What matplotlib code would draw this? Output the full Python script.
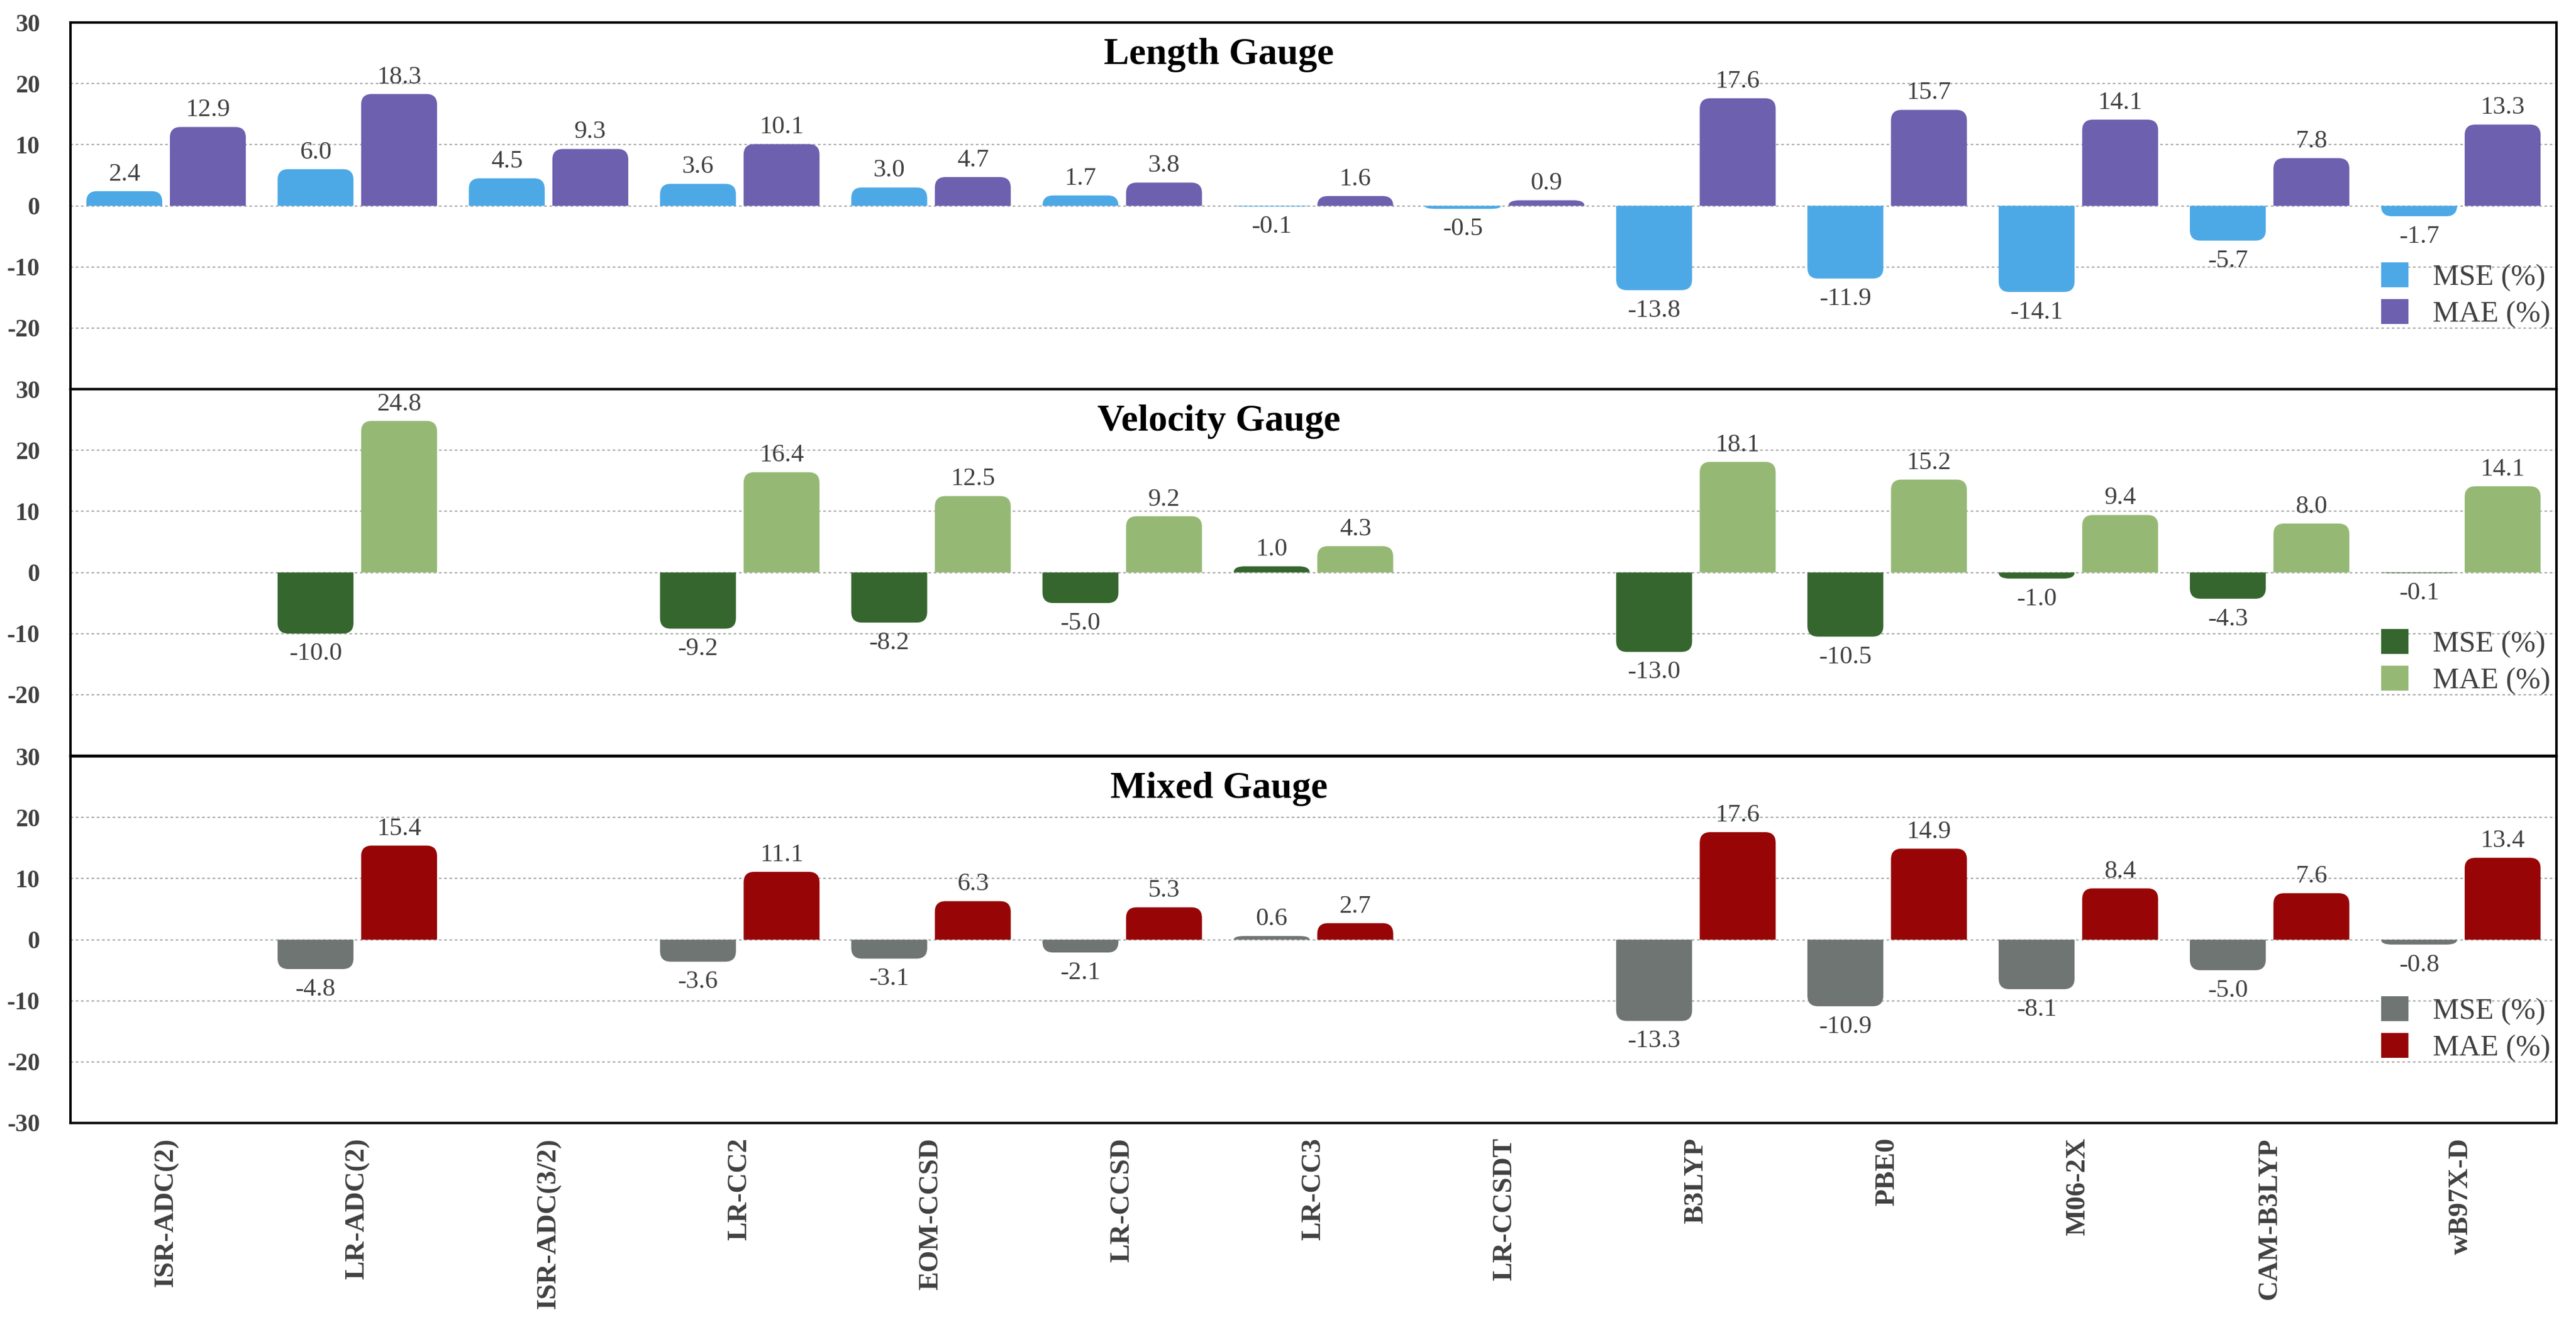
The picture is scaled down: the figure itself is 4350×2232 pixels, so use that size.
import numpy as np
import matplotlib
matplotlib.use("Agg")
import matplotlib.pyplot as plt
from matplotlib.path import Path
from matplotlib.patches import PathPatch, Patch

categories = ["ISR-ADC(2)", "LR-ADC(2)", "ISR-ADC(3/2)", "LR-CC2", "EOM-CCSD", "LR-CCSD",
              "LR-CC3", "LR-CCSDT", "B3LYP", "PBE0", "M06-2X", "CAM-B3LYP", "wB97X-D"]

length_mse = [2.4, 6.0, 4.5, 3.6, 3.0, 1.7, -0.1, -0.5, -13.8, -11.9, -14.1, -5.7, -1.7]
length_mae = [12.9, 18.3, 9.3, 10.1, 4.7, 3.8, 1.6, 0.9, 17.6, 15.7, 14.1, 7.8, 13.3]

velocity_mse = [None, -10.0, None, -9.2, -8.2, -5.0, 1.0, None, -13.0, -10.5, -1.0, -4.3, -0.1]
velocity_mae = [None, 24.8, None, 16.4, 12.5, 9.2, 4.3, None, 18.1, 15.2, 9.4, 8.0, 14.1]

mixed_mse = [None, -4.8, None, -3.6, -3.1, -2.1, 0.6, None, -13.3, -10.9, -8.1, -5.0, -0.8]
mixed_mae = [None, 15.4, None, 11.1, 6.3, 5.3, 2.7, None, 17.6, 14.9, 8.4, 7.6, 13.4]

panel_titles = ["Length Gauge", "Velocity Gauge", "Mixed Gauge"]
series_labels = ["MSE (%)", "MAE (%)"]
panel_colors = [("#4DA9E6", "#6C60AF"), ("#35662E", "#95B975"), ("#6F7572", "#970506")]
panel_data = [(length_mse, length_mae), (velocity_mse, velocity_mae), (mixed_mse, mixed_mae)]

plt.rcParams['font.family'] = ['Liberation Serif', 'DejaVu Serif']

W, H = 4350, 2232
fig = plt.figure(figsize=(W / 100, H / 100), dpi=100)
left, right = 119 / W, 4317 / W
tops = [38, 657, 1277]
ph = 619
axes = []
for i in range(3):
    y0 = 1 - (tops[i] + ph) / H
    ax = fig.add_axes([left, y0, right - left, ph / H])
    axes.append(ax)

text_color = "#404040"
bar_w = 0.397
offset = 0.2185
rad_px = 18.0


def rounded_bar(ax, xc, v, color):
    # corner radii converted from pixels into data units via the axes transform
    bbox = ax.get_window_extent()
    xl = ax.get_xlim(); yl = ax.get_ylim()
    px_per_x = bbox.width / (xl[1] - xl[0])
    px_per_y = bbox.height / (yl[1] - yl[0])
    rx = min(rad_px / px_per_x, bar_w / 2)
    ry = min(rad_px / px_per_y, abs(v))
    s = 1 if v >= 0 else -1
    x0, x1 = xc - bar_w / 2, xc + bar_w / 2
    verts = [(x0, 0), (x0, v - s * ry), (x0, v), (x0 + rx, v), (x1 - rx, v),
             (x1, v), (x1, v - s * ry), (x1, 0), (x0, 0)]
    codes = [Path.MOVETO, Path.LINETO, Path.CURVE3, Path.CURVE3, Path.LINETO,
             Path.CURVE3, Path.CURVE3, Path.LINETO, Path.CLOSEPOLY]
    ax.add_patch(PathPatch(Path(verts, codes), facecolor=color, edgecolor='none', zorder=3))


x = np.arange(len(categories))
for i, ax in enumerate(axes):
    ax.set_xlim(-0.5, len(categories) - 0.5)
    ax.set_ylim(-30, 30)
    mse, mae = panel_data[i]
    cm, ca = panel_colors[i]
    for vals, col, off in ((mse, cm, -offset), (mae, ca, offset)):
        for xi, v in zip(x, vals):
            if v is None:
                continue
            rounded_bar(ax, xi + off, v, col)
            if v >= 0:
                ax.annotate(f"{v:.1f}", (xi + off, v), xytext=(0, 13), textcoords='offset points',
                            ha='center', va='baseline', fontsize=31, color=text_color)
            else:
                ax.annotate(f"{v:.1f}", (xi + off, v), xytext=(0, -11), textcoords='offset points',
                            ha='center', va='top', fontsize=31, color=text_color)
    for g in (-20, -10, 0, 10, 20):
        ax.axhline(g, color="#AAAAAA", lw=1.6, ls=(0, (2, 2)), zorder=1)
    ticks = [-20, -10, 0, 10, 20, 30] if i < 2 else [-30, -20, -10, 0, 10, 20, 30]
    ax.set_yticks(ticks)
    ax.set_yticklabels([str(t) for t in ticks], fontsize=30, fontweight='bold', color=text_color)
    ax.tick_params(axis='y', length=0, pad=37)
    ax.set_xticks(x)
    if i < 2:
        ax.set_xticklabels([])
        ax.tick_params(axis='x', length=0)
    else:
        ax.set_xticklabels(categories, rotation=90, fontsize=34, fontweight='bold',
                           color=text_color, va='top', ha='center')
        ax.tick_params(axis='x', length=0, pad=18)
    for sp in ax.spines.values():
        sp.set_linewidth(3)
        sp.set_color('black')
        sp.set_zorder(5)
    ax.text(0.462, 1 - 70 / ph, panel_titles[i], transform=ax.transAxes, ha='center',
            va='baseline', fontsize=46, fontweight='bold', color='black')
    handles = [Patch(facecolor=cm, edgecolor='none'), Patch(facecolor=ca, edgecolor='none')]
    ax.legend(handles, series_labels, loc='lower right', bbox_to_anchor=(1.0, 0.15),
              frameon=False, fontsize=36, handlelength=0.92, handleheight=0.92,
              handletextpad=0.82, labelspacing=0.25, borderaxespad=0, borderpad=0.2,
              labelcolor=text_color)

fig.savefig("out.png", dpi=100)
